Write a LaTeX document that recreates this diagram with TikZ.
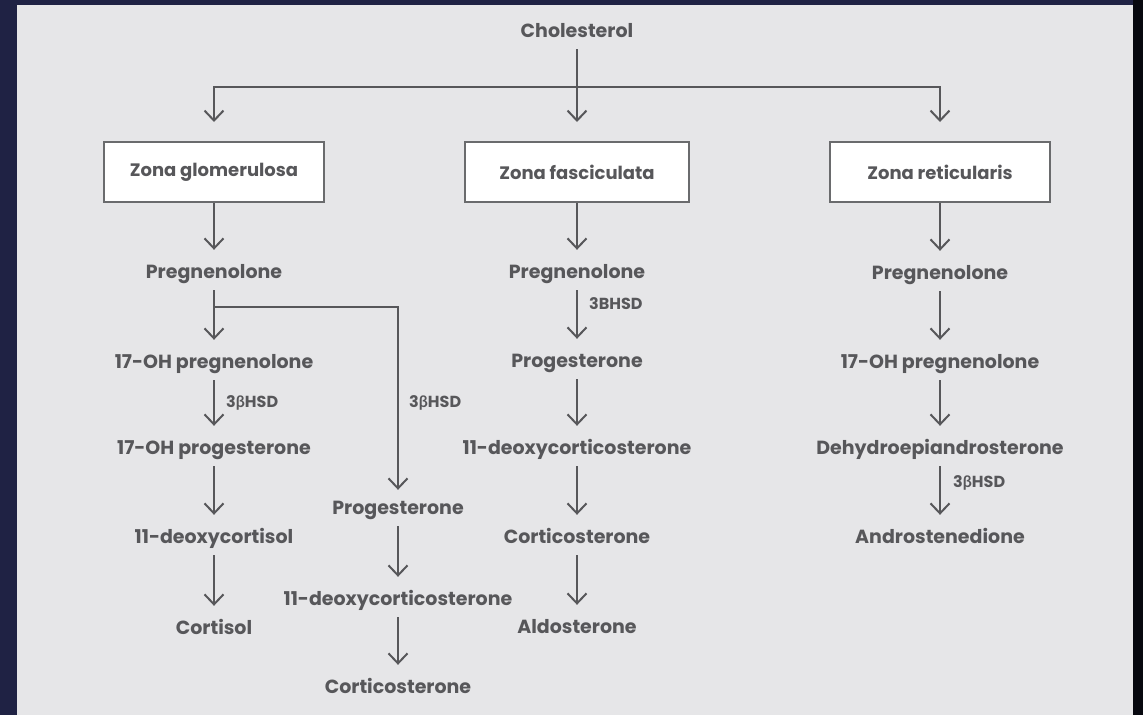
\documentclass[tikz,border=0pt]{standalone}
\usepackage{fontspec}
\setmainfont{Poppins}
\newfontfamily\gk{Lato}
\usetikzlibrary{arrows.meta}
\definecolor{navy}{HTML}{1F2244}
\definecolor{deep}{HTML}{07080F}
\definecolor{panel}{HTML}{E6E6E8}
\definecolor{ink}{HTML}{57575A}
\definecolor{boxc}{HTML}{6A6B6D}
\tikzset{
  ln/.style={draw=ink, line width=2pt},
  arr/.style={ln, -{Straight Barb[length=10pt,width=19pt,line width=2pt]}},
  chem/.style={font=\fontsize{19}{22}\selectfont\bfseries, text=ink, inner sep=0pt, text height=28pt, text depth=12pt, anchor=base},
  zbox/.style={draw=boxc, line width=2pt, fill=white, minimum width=220pt, minimum height=60pt, inner sep=0pt, font=\fontsize{18}{21}\selectfont\bfseries, text=ink},
  enz/.style={font=\fontsize{16}{19}\selectfont\bfseries, text=ink, inner sep=0pt, anchor=west}
}
\newcommand{\bet}{{\gk\bfseries β}}
\begin{document}
\begin{tikzpicture}[x=1pt,y=-1pt]
\useasboundingbox (0,0) rectangle (1143,715);
\fill[navy] (0,0) rectangle (1143,715);
\fill[deep] (1133,0) rectangle (1143,715);
\fill[panel] (17,5) rectangle (1133,715);

% top
\node[chem] (chol) at (577,37) {Cholesterol};
\node[zbox] (zg) at (214,172) {Zona glomerulosa};
\node[zbox, minimum width=224pt] (zf) at (577,172) {Zona fasciculata};
\node[zbox] (zr) at (940,172) {Zona reticularis};
\coordinate (split) at (577,87);
\draw[ln] (chol.south) -- (split);
\draw[arr, shorten >=19pt] (split) -| (zg.north);
\draw[arr, shorten >=19pt] (split) -- (zf.north);
\draw[arr, shorten >=19pt] (split) -| (zr.north);

% left column
\node[chem] (pregL) at (214,278) {Pregnenolone};
\node[chem] (ohpregL) at (214,368) {17-OH pregnenolone};
\node[chem] (ohprogL) at (214,454) {17-OH progesterone};
\node[chem] (dcl) at (214,543) {11-deoxycortisol};
\node[chem] (cortisol) at (214,634) {Cortisol};
\draw[arr] (zg.south) -- (pregL.north);
\coordinate (br) at (214,307);
\draw[ln] (pregL.south) -- (br);
\draw[arr] (br) -- (ohpregL.north);
\draw[arr] (ohpregL.south) -- (ohprogL.north);
\node[enz] (e1) at (226,403) {3\bet HSD};
\draw[arr] (ohprogL.south) -- (dcl.north);
\draw[arr] (dcl.south) -- (cortisol.north);

% branch
\node[chem] (progB) at (398,514) {Progesterone};
\node[chem] (docB) at (398,605) {11-deoxycorticosterone};
\node[chem] (corB) at (398,693) {Corticosterone};
\draw[arr, shorten >=-4pt] (br) -| (progB.north);
\node[enz] (e2) at (409,403) {3\bet HSD};
\draw[arr] (progB.south) -- (docB.north);
\draw[arr] (docB.south) -- (corB.north);

% middle column
\node[chem] (pregM) at (577,278) {Pregnenolone};
\node[chem] (progM) at (577,367) {Progesterone};
\node[chem] (docM) at (577,454) {11-deoxycorticosterone};
\node[chem] (corM) at (577,543) {Corticosterone};
\node[chem] (aldo) at (577,633) {Aldosterone};
\draw[arr] (zf.south) -- (pregM.north);
\draw[arr] (pregM.south) -- (progM.north);
\node[enz] (e3) at (589,304) {3BHSD};
\draw[arr] (progM.south) -- (docM.north);
\draw[arr] (docM.south) -- (corM.north);
\draw[arr] (corM.south) -- (aldo.north);

% right column
\node[chem] (pregR) at (940,279) {Pregnenolone};
\node[chem] (ohpregR) at (940,368) {17-OH pregnenolone};
\node[chem] (dhea) at (940,454) {Dehydroepiandrosterone};
\node[chem] (andro) at (940,543) {Androstenedione};
\draw[arr] (zr.south) -- (pregR.north);
\draw[arr] (pregR.south) -- (ohpregR.north);
\draw[arr] (ohpregR.south) -- (dhea.north);
\draw[arr] (dhea.south) -- (andro.north);
\node[enz] (e4) at (953,483) {3\bet HSD};
\end{tikzpicture}
\end{document}
